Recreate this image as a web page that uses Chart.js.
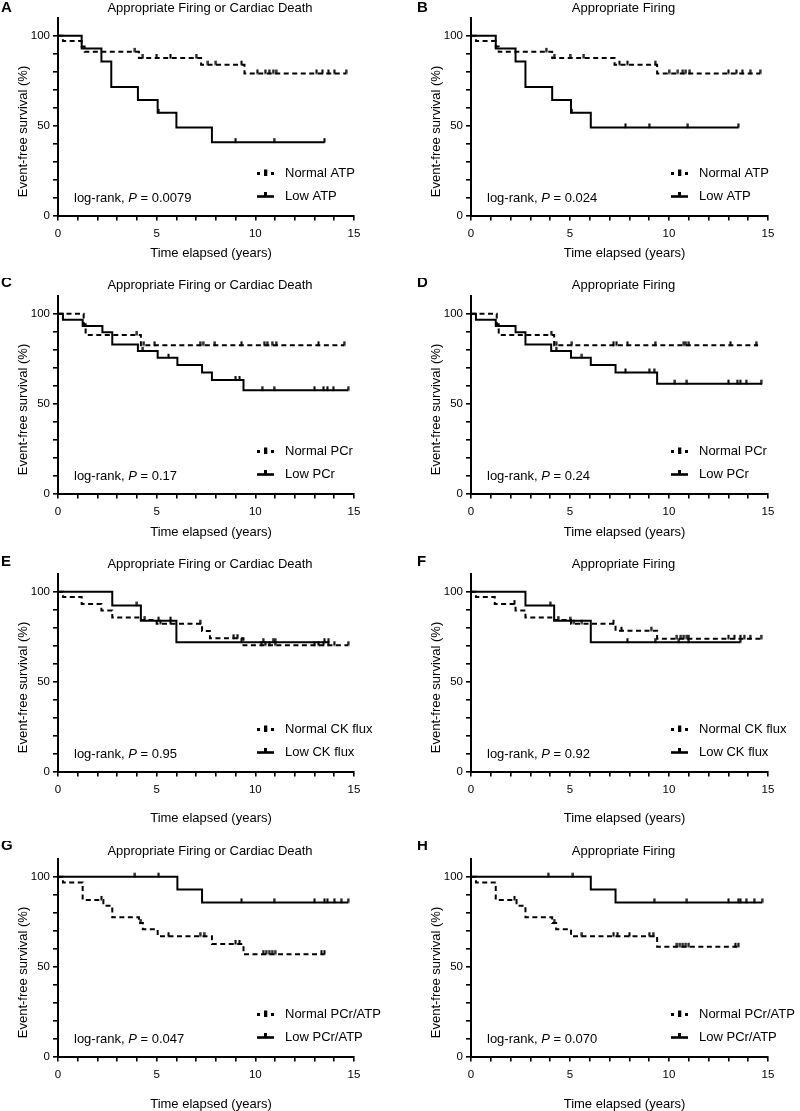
<!DOCTYPE html>
<html lang="en">
<head>
<meta charset="UTF-8">
<title>Event-free survival</title>
<style>
  body { margin: 0; background: #fff; }
  #wrap { position: relative; width: 800px; height: 1111px; overflow: hidden; }
  #wrap canvas { position: absolute; }
</style>
</head>
<body>
<div id="wrap"></div>

<script src="https://cdn.jsdelivr.net/npm/chart.js"></script>
<script>
  // panel labels and texts
  const panelLetters = ['A', 'B', 'C', 'D', 'E', 'F', 'G', 'H'];
  const panelTitles = ['Appropriate Firing or Cardiac Death', 'Appropriate Firing',
    'Appropriate Firing or Cardiac Death', 'Appropriate Firing',
    'Appropriate Firing or Cardiac Death', 'Appropriate Firing',
    'Appropriate Firing or Cardiac Death', 'Appropriate Firing'];
  const markerNames = ['ATP', 'ATP', 'PCr', 'PCr', 'CK flux', 'CK flux', 'PCr/ATP', 'PCr/ATP'];
  const pValues = ['0.0079', '0.024', '0.17', '0.24', '0.95', '0.92', '0.047', '0.070'];

  // axis ticks
  const xTickMarks = [0, 1, 2, 3, 4, 5, 6, 7, 8, 9, 10, 11, 12, 13, 14, 15];
  const xTickLabels = [0, 5, 10, 15];
  const yTickMarks = [0, 10, 20, 30, 40, 50, 60, 70, 80, 90, 100];
  const yTickLabels = [0, 50, 100];

  // A - ATP, firing or cardiac death
  const aNormTime = [0, 0.25, 1.2, 1.35, 4.1, 7.25, 9.45, 14.6];
  const aNormSurv = [100, 97, 94, 91, 87.6, 83.9, 79, 79];
  const aNormCens = [3.9, 4.3, 5.0, 5.7, 7.0, 7.6, 8.0, 9.3, 10.1, 10.5, 10.7, 10.9, 11.05, 13.1, 13.4, 13.7, 14.0, 14.6];
  const aLowTime = [0, 1.2, 2.2, 2.7, 4.05, 5.05, 6.0, 7.8, 13.5];
  const aLowSurv = [100, 92.9, 85.7, 71.4, 64.3, 57.1, 49.0, 40.8, 40.8];
  const aLowCens = [5.1, 9.0, 10.95, 13.5];

  // B - ATP, firing
  const bNormTime = [0, 0.25, 1.25, 1.4, 4.1, 7.25, 9.4, 14.6];
  const bNormSurv = [100, 97, 94, 91, 87.6, 83.9, 79, 79];
  const bNormCens = [3.8, 4.2, 5.0, 5.7, 7.5, 7.9, 9.3, 10.0, 10.45, 10.7, 10.85, 11.05, 13.0, 13.4, 13.7, 14.1, 14.6];
  const bLowTime = [0, 1.25, 2.25, 2.75, 4.1, 5.05, 6.05, 13.5];
  const bLowSurv = [100, 92.9, 85.7, 71.4, 64.3, 57.1, 49.0, 49.0];
  const bLowCens = [5.1, 7.8, 9.0, 10.95, 13.5];

  // C - PCr, firing or cardiac death
  const cNormTime = [0, 1.3, 1.4, 4.2, 14.5];
  const cNormSurv = [100, 94.1, 88.2, 82.4, 82.4];
  const cNormCens = [4.0, 4.35, 4.9, 7.2, 7.35, 7.95, 9.3, 10.45, 10.6, 10.85, 11.05, 13.2, 14.5];
  const cLowTime = [0, 0.25, 1.25, 2.25, 2.75, 4.05, 5.05, 6.05, 7.3, 7.8, 9.4, 14.7];
  const cLowSurv = [100, 96.6, 93.1, 89.7, 82.8, 79.3, 75.5, 71.5, 67.3, 63.1, 57.4, 57.4];
  const cLowCens = [4.3, 5.6, 9.0, 9.2, 10.35, 10.95, 13.0, 13.45, 13.65, 13.95, 14.7];

  // D - PCr, firing
  const dNormTime = [0, 1.3, 1.4, 4.2, 14.5];
  const dNormSurv = [100, 94.1, 88.2, 82.4, 82.4];
  const dNormCens = [4.05, 4.3, 5.1, 7.2, 7.35, 7.9, 9.3, 10.75, 10.85, 11.0, 13.1, 14.4];
  const dLowTime = [0, 0.25, 1.25, 2.25, 2.75, 4.05, 5.05, 6.05, 7.3, 9.4, 14.7];
  const dLowSurv = [100, 96.6, 93.1, 89.7, 82.8, 79.3, 75.5, 71.5, 67.3, 61.1, 61.1];
  const dLowCens = [4.3, 5.6, 7.8, 9.0, 9.25, 10.3, 10.9, 13.0, 13.45, 13.6, 13.9, 14.65];

  // E - CK flux, firing or cardiac death
  const eNormTime = [0, 0.25, 1.2, 2.2, 2.75, 4.2, 5.0, 7.3, 7.7, 9.4, 14.7];
  const eNormSurv = [100, 97.1, 93.1, 89.6, 85.7, 84.2, 82.2, 78.2, 74.1, 70.2, 70.2];
  const eNormCens = [4.4, 5.2, 5.7, 7.2, 8.9, 9.1, 10.3, 10.5, 10.7, 11.0, 13.0, 13.2, 13.45, 13.7, 14.0, 14.7];
  const eLowTime = [0, 2.75, 4.2, 6.0, 13.7];
  const eLowSurv = [100, 92.3, 83.9, 71.9, 71.9];
  const eLowCens = [4.0, 5.1, 5.7, 9.3, 10.4, 10.9, 11.0, 13.5, 13.7];

  // F - CK flux, firing
  const fNormTime = [0, 0.25, 1.2, 2.25, 2.75, 4.2, 5.05, 7.3, 9.4, 14.65];
  const fNormSurv = [100, 97.1, 93.1, 89.6, 85.7, 84.2, 82.2, 78.3, 73.8, 73.8];
  const fNormCens = [2.2, 4.4, 5.2, 5.6, 7.2, 7.6, 9.1, 10.4, 10.6, 10.75, 10.9, 11.0, 13.0, 13.3, 13.6, 13.8, 14.1, 14.65];
  const fLowTime = [0, 2.75, 4.2, 6.05, 13.6];
  const fLowSurv = [100, 92.3, 83.9, 71.9, 71.9];
  const fLowCens = [4.0, 5.0, 7.9, 9.3, 10.5, 11.0, 13.6];

  // G - PCr/ATP, firing or cardiac death
  const gNormTime = [0, 0.25, 1.25, 2.3, 2.75, 4.1, 4.3, 5.05, 7.8, 9.4, 13.5];
  const gNormSurv = [100, 96.8, 87.1, 83.9, 77.4, 74.2, 70.7, 66.9, 62.6, 56.9, 56.9];
  const gNormCens = [2.2, 4.2, 5.6, 7.2, 7.4, 9.0, 9.2, 10.4, 10.55, 10.7, 10.85, 11.0, 13.35, 13.5];
  const gLowTime = [0, 6.05, 7.3, 14.7];
  const gLowSurv = [100, 92.9, 85.7, 85.7];
  const gLowCens = [3.9, 5.1, 9.3, 10.95, 13.0, 13.5, 13.65, 14.0, 14.35, 14.7];

  // H - PCr/ATP, firing
  const hNormTime = [0, 0.25, 1.25, 2.3, 2.75, 4.1, 4.3, 5.05, 9.4, 13.5];
  const hNormSurv = [100, 96.8, 87.1, 83.9, 77.4, 74.2, 70.7, 66.9, 61.0, 61.0];
  const hNormCens = [2.2, 4.2, 5.6, 7.2, 7.4, 8.0, 9.0, 9.2, 10.4, 10.55, 10.7, 10.85, 11.0, 13.35, 13.5];
  const hLowTime = [0, 6.05, 7.3, 14.7];
  const hLowSurv = [100, 92.9, 85.7, 85.7];
  const hLowCens = [3.9, 5.15, 9.25, 10.9, 13.0, 13.5, 13.6, 13.9, 14.3, 14.7];

  const curves = [
    [aNormTime, aNormSurv, aNormCens, aLowTime, aLowSurv, aLowCens],
    [bNormTime, bNormSurv, bNormCens, bLowTime, bLowSurv, bLowCens],
    [cNormTime, cNormSurv, cNormCens, cLowTime, cLowSurv, cLowCens],
    [dNormTime, dNormSurv, dNormCens, dLowTime, dLowSurv, dLowCens],
    [eNormTime, eNormSurv, eNormCens, eLowTime, eLowSurv, eLowCens],
    [fNormTime, fNormSurv, fNormCens, fLowTime, fLowSurv, fLowCens],
    [gNormTime, gNormSurv, gNormCens, gLowTime, gLowSurv, gLowCens],
    [hNormTime, hNormSurv, hNormCens, hLowTime, hLowSurv, hLowCens]
  ];

  // layout of the 4 rows (page pixels)
  const rowTop = [0, 278, 556, 841];
  const rowHeight = [278, 278, 285, 270];
  const rowLetterY = [8, 5, 6, 5];
  const rowTitleY = [8, 7, 8, 10];
  const rowXTitleY = [253, 254, 262, 263];

  const FONT = 'Arial, "Liberation Sans", Helvetica, sans-serif';

  // censor tick: small mark standing on the curve
  const censorMark = document.createElement('canvas');
  censorMark.width = 3;
  censorMark.height = 10;
  (function () {
    const c = censorMark.getContext('2d');
    c.fillStyle = '#000';
    c.fillRect(0.5, 1, 2, 4.5);
  })();

  function stepPoints(t, s) {
    return t.map((x, i) => ({ x: x, y: s[i] }));
  }

  function censorPoints(t, s, c) {
    return c.map(x => {
      let y = s[0];
      for (let i = 0; i < t.length; i++) if (t[i] <= x) y = s[i];
      return { x: x, y: y };
    });
  }

  function drawSwatch(ctx, x, y, dashed) {
    ctx.save();
    ctx.fillStyle = '#000';
    if (dashed) {
      ctx.fillRect(x, y - 1.5, 3, 3);
      ctx.fillRect(x + 7, y - 4, 3.3, 6.5);
      ctx.fillRect(x + 14, y - 1.5, 3, 3);
    } else {
      ctx.fillRect(x, y - 1.3, 17, 2.6);
      ctx.fillRect(x + 7, y - 4.5, 3, 4);
    }
    ctx.restore();
  }

  const decor = {
    id: 'decor',
    afterDraw(chart, args, o) {
      const ctx = chart.ctx;
      const a = chart.chartArea;
      const mid = (a.left + a.right) / 2;
      ctx.save();
      ctx.fillStyle = '#000';
      ctx.textBaseline = 'middle';

      ctx.font = 'bold 15px ' + FONT;
      ctx.textAlign = 'left';
      ctx.fillText(o.letter, o.letterX, o.letterY);

      ctx.font = '13px ' + FONT;
      ctx.textAlign = 'center';
      ctx.fillText(o.title, mid + 4, o.titleY);
      ctx.fillText('Time elapsed (years)', mid + 5, o.xTitleY);

      ctx.save();
      ctx.translate(a.left - 35, a.bottom - 84);
      ctx.rotate(-Math.PI / 2);
      ctx.fillText('Event-free survival (%)', 0, 0);
      ctx.restore();

      // log-rank annotation
      ctx.textAlign = 'left';
      let px = a.left + 16;
      const py = a.bottom - 17;
      const part1 = 'log-rank, ';
      ctx.fillText(part1, px, py);
      px += ctx.measureText(part1).width;
      ctx.font = 'italic 13px ' + FONT;
      ctx.fillText('P', px, py);
      px += ctx.measureText('P').width;
      ctx.font = '13px ' + FONT;
      ctx.fillText(' = ' + o.p, px, py);

      // legend
      const sx = a.right - 97;
      drawSwatch(ctx, sx, a.bottom - 42, true);
      drawSwatch(ctx, sx, a.bottom - 19, false);
      ctx.fillText('Normal ' + o.marker, a.right - 69, a.bottom - 42);
      ctx.fillText('Low ' + o.marker, a.right - 69, a.bottom - 19);
      ctx.restore();
    }
  };

  const wrap = document.getElementById('wrap');

  panelLetters.forEach((letter, i) => {
    const row = Math.floor(i / 2);
    const col = i % 2;
    const h = rowHeight[row];
    const plotL = col === 0 ? 58 : 71;
    const plotR = col === 0 ? 354 : 368;
    const [nT, nS, nC, lT, lS, lC] = curves[i];

    const cv = document.createElement('canvas');
    cv.width = 400;
    cv.height = h;
    cv.style.left = (col * 400) + 'px';
    cv.style.top = rowTop[row] + 'px';
    cv.style.width = '400px';
    cv.style.height = h + 'px';
    wrap.appendChild(cv);

    new Chart(cv.getContext('2d'), {
      type: 'line',
      data: {
        datasets: [
          {
            label: 'Normal ' + markerNames[i],
            data: stepPoints(nT, nS),
            stepped: 'before',
            borderColor: '#000',
            borderWidth: 2,
            borderDash: [5, 3.5],
            pointRadius: 0,
            fill: false,
            clip: 8
          },
          {
            label: 'Low ' + markerNames[i],
            data: stepPoints(lT, lS),
            stepped: 'before',
            borderColor: '#000',
            borderWidth: 2,
            pointRadius: 0,
            fill: false,
            clip: 8
          },
          {
            label: 'Normal censored',
            data: censorPoints(nT, nS, nC),
            showLine: false,
            pointStyle: censorMark,
            pointRadius: 4,
            clip: 8
          },
          {
            label: 'Low censored',
            data: censorPoints(lT, lS, lC),
            showLine: false,
            pointStyle: censorMark,
            pointRadius: 4,
            clip: 8
          }
        ]
      },
      options: {
        responsive: false,
        animation: false,
        events: [],
        layout: { padding: { left: 0, top: 17.7, right: 400 - plotR, bottom: 0 } },
        plugins: {
          legend: { display: false },
          tooltip: { enabled: false },
          decor: {
            letter: letter,
            letterX: col === 0 ? 1 : 17,
            letterY: rowLetterY[row],
            title: panelTitles[i],
            titleY: rowTitleY[row],
            xTitleY: rowXTitleY[row],
            marker: markerNames[i],
            p: pValues[i]
          }
        },
        scales: {
          x: {
            type: 'linear',
            min: 0,
            max: 15,
            afterBuildTicks: s => { s.ticks = xTickMarks.map(v => ({ value: v })); },
            afterFit: s => { s.height = h - 215.5; },
            border: { color: '#000', width: 2 },
            grid: { drawOnChartArea: false, color: '#000', tickLength: 5, lineWidth: 1.6 },
            ticks: {
              autoSkip: false,
              maxRotation: 0,
              color: '#000',
              padding: 6,
              font: { family: FONT, size: 11.5 },
              callback: v => xTickLabels.includes(v) ? v : ''
            }
          },
          y: {
            type: 'linear',
            min: 0,
            max: 110,
            afterBuildTicks: s => { s.ticks = yTickMarks.map(v => ({ value: v })); },
            afterFit: s => { s.width = plotL; },
            border: { color: '#000', width: 2 },
            grid: { drawOnChartArea: false, color: '#000', tickLength: 5, lineWidth: 1.6 },
            ticks: {
              autoSkip: false,
              color: '#000',
              padding: 3,
              font: { family: FONT, size: 11.5 },
              callback: v => yTickLabels.includes(v) ? v : ''
            }
          }
        }
      },
      plugins: [decor]
    });
  });
</script>
</body>
</html>
